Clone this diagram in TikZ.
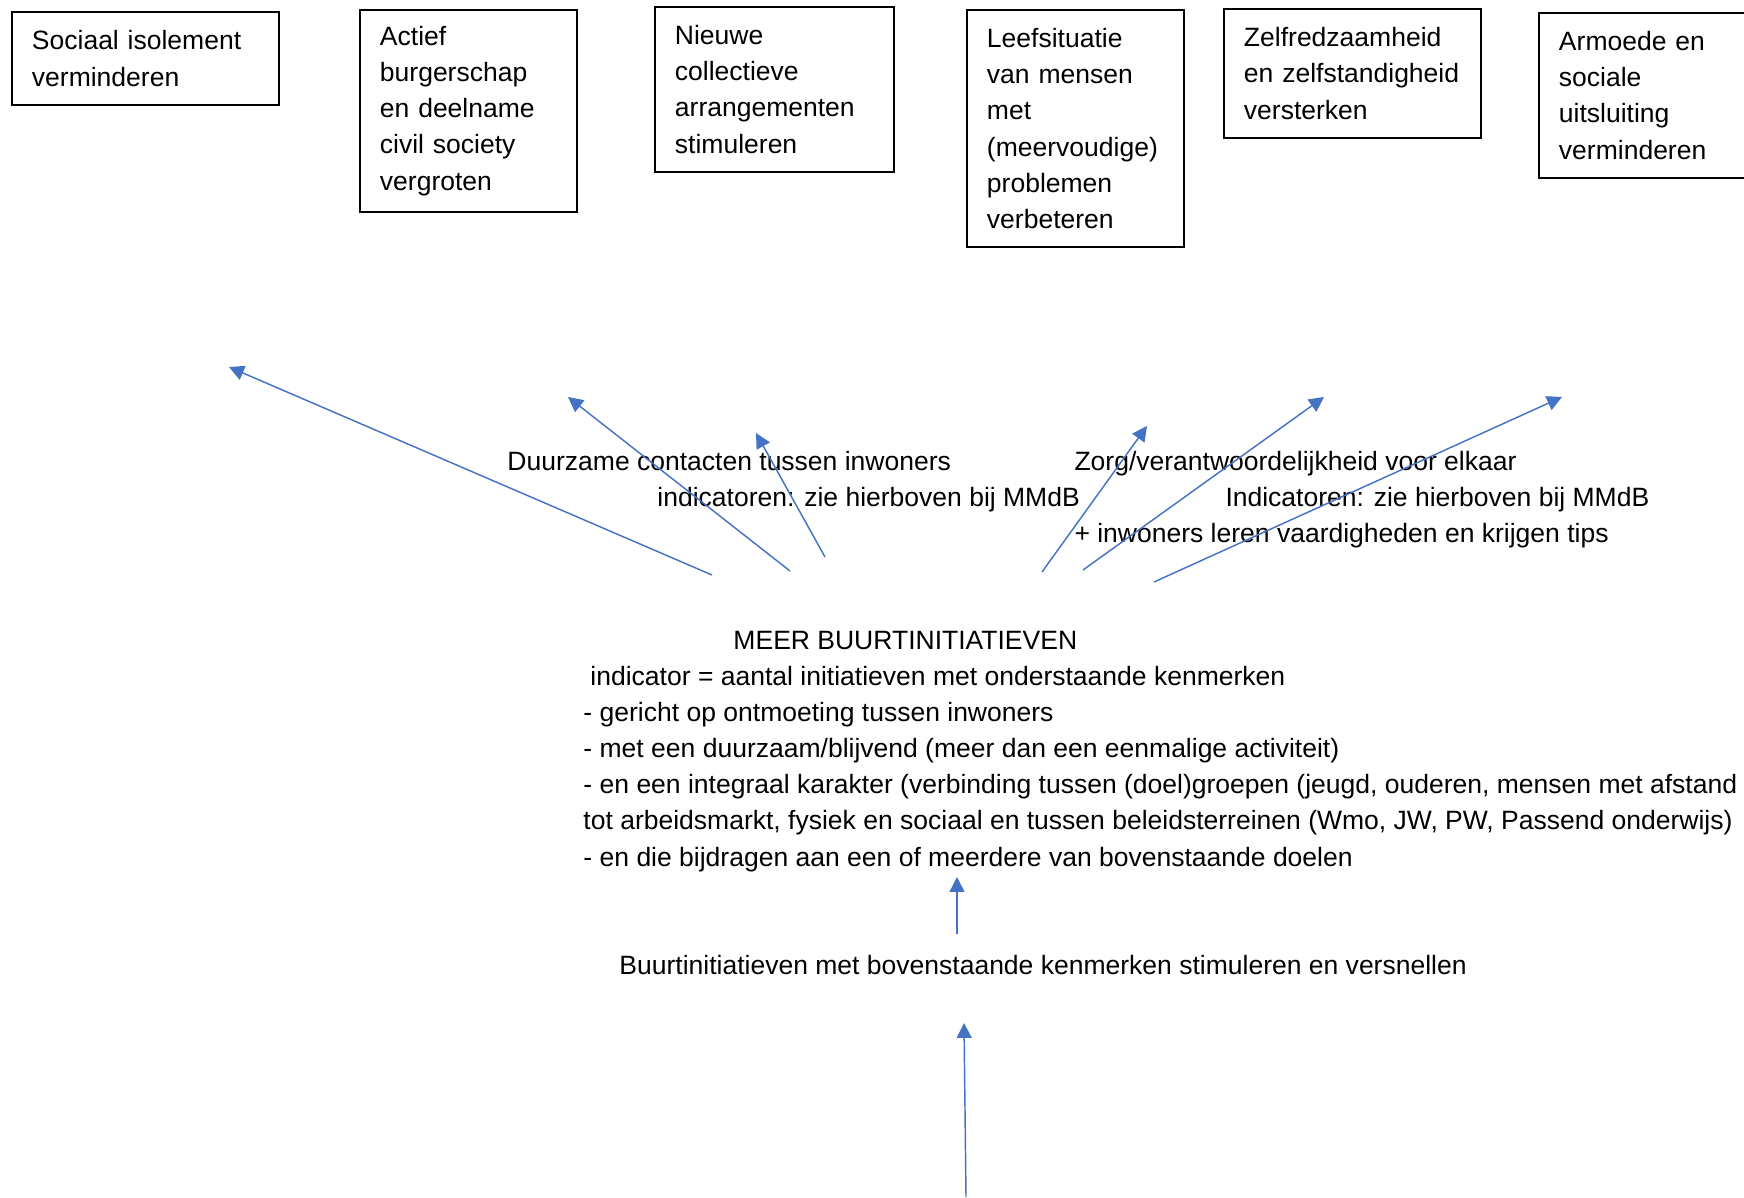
\documentclass[tikz,border=0pt]{standalone}
\usepackage{fontspec}
\setmainfont{Liberation Sans}
\usetikzlibrary{arrows.meta}
\definecolor{linkblue}{RGB}{68,114,196}
\newdimen\pxu
\pxu=0.415pt
\tikzset{
	goalbox/.style={draw, line width=0.8pt, anchor=north west, align=left, inner xsep=20\pxu, inner ysep=0pt},
	freetext/.style={anchor=base west, inner sep=0pt},
	link/.style={linkblue, line width=0.6pt, -{Triangle[length=6.2pt,width=6.2pt]}}
}
\begin{document}
\begin{tikzpicture}[x=0.415pt, y=-0.415pt, font=\fontsize{11pt}{15pt}\selectfont]
		\useasboundingbox (0,0) rectangle (1744,1198);

		\node[goalbox, text width=227\pxu, minimum height=93\pxu] (sociaal) at (11,11) {Sociaal isolement\\verminderen};
		\node[goalbox, text width=177\pxu, minimum height=202\pxu] (burgerschap) at (359,9) {Actief\\burgerschap\\en deelname\\civil society\\vergroten};
		\node[goalbox, text width=199\pxu, minimum height=165\pxu] (arrangementen) at (654,6) {Nieuwe\\collectieve\\arrangementen\\stimuleren};
		\node[goalbox, text width=177\pxu, minimum height=237\pxu] (leefsituatie) at (966,9) {Leefsituatie\\van mensen\\met\\(meervoudige)\\problemen\\verbeteren};
		\node[goalbox, text width=217\pxu, minimum height=129\pxu] (zelfredzaamheid) at (1223,8) {Zelfredzaamheid\\en zelfstandigheid\\versterken};
		\node[goalbox, text width=220\pxu, minimum height=165\pxu] (armoede) at (1538,12) {Armoede en\\sociale\\uitsluiting\\verminderen};

		\node[freetext] (duurzaam) at (507,471) {Duurzame contacten tussen inwoners};
		\node[freetext] (duurzaamind) at (657,507) {indicatoren: zie hierboven bij MMdB};
		\node[freetext] (zorg) at (1074,471) {Zorg/verantwoordelijkheid voor elkaar};
		\node[freetext] (zorgind) at (1225,507) {Indicatoren: zie hierboven bij MMdB};
		\node[freetext] (tips) at (1074,543) {+ inwoners leren vaardigheden en krijgen tips};

		\node[freetext, align=left] (meer) at (583,866) {\hspace*{150\pxu}MEER BUURTINITIATIEVEN\\
			\hspace*{7\pxu}indicator = aantal initiatieven met onderstaande kenmerken\\
			- gericht op ontmoeting tussen inwoners\\
			- met een duurzaam/blijvend (meer dan een eenmalige activiteit)\\
			- en een integraal karakter (verbinding tussen (doel)groepen (jeugd, ouderen, mensen met afstand\\
			tot arbeidsmarkt, fysiek en sociaal en tussen beleidsterreinen (Wmo, JW, PW, Passend onderwijs)\\
			- en die bijdragen aan een of meerdere van bovenstaande doelen};

		\node[freetext] (stimuleren) at (619,974) {Buurtinitiatieven met bovenstaande kenmerken stimuleren en versnellen};

		\foreach \n/\a/\b/\c/\d in {1/712/575/229/367, 2/790/571/568/397, 3/825/557/756/433, 4/1042/572/1147/426,
				5/1083/570/1324/397, 6/1154/582/1562/397, 7/957/934/957/877, 8/966/1197/964/1023} {
			\coordinate (s\n) at (\a,\b);
			\coordinate (e\n) at (\c,\d);
		}

		\foreach \n in {1,...,8} {
			\draw[link] (s\n) -- (e\n);
		}
	\end{tikzpicture}
\end{document}
